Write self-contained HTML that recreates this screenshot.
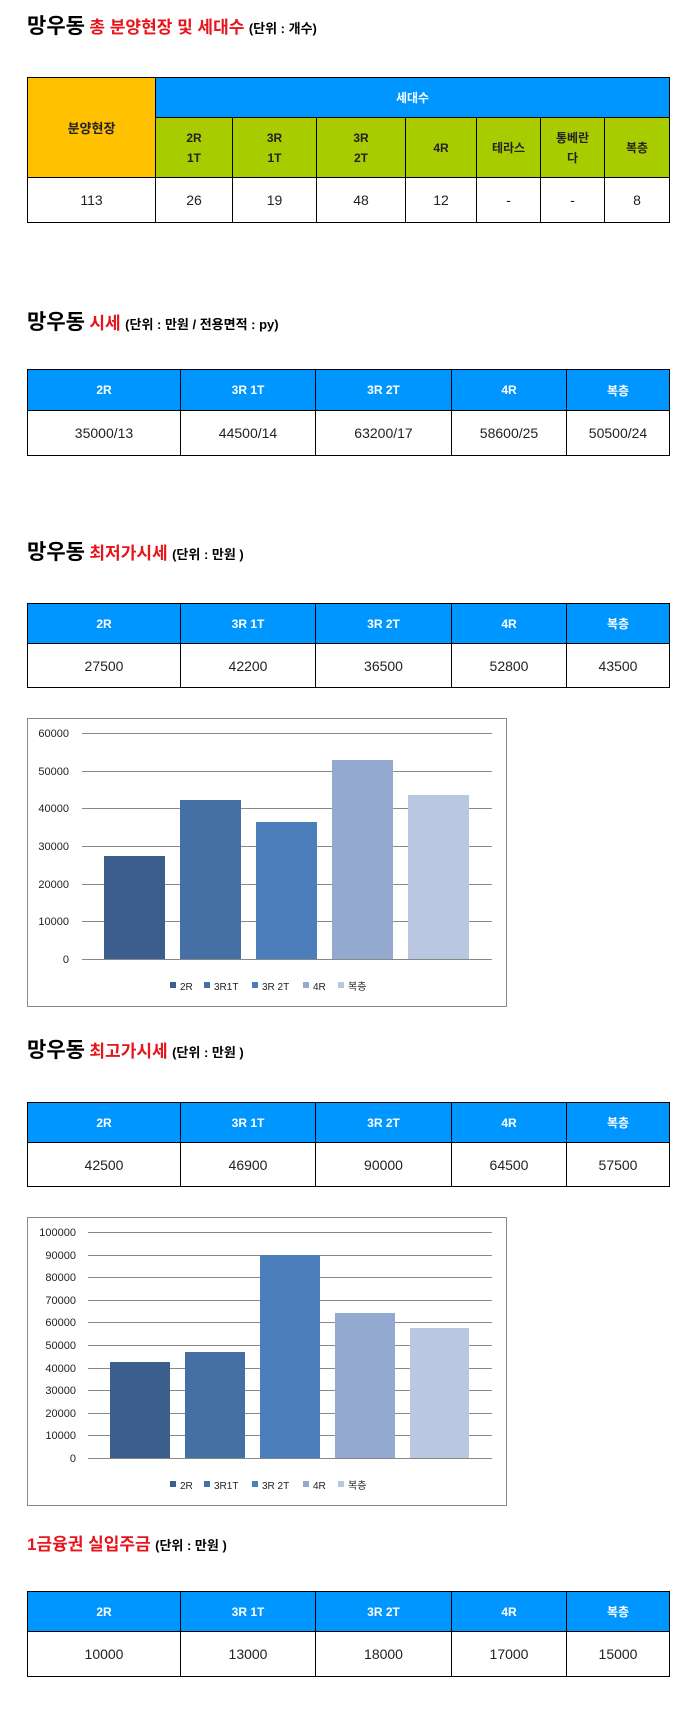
<!DOCTYPE html>
<html><head><meta charset="utf-8">
<style>
body{margin:0;width:695px;height:1723px;background:#fff;position:relative;font-family:"Liberation Sans","Noto Sans CJK KR",sans-serif;overflow:hidden}
.t{position:absolute;left:27px;white-space:nowrap;font-weight:bold;line-height:1}
.t .a{font-size:21px;color:#000}
.t .b{font-size:17px;color:#e8141c}
.t .c{font-size:13px;color:#000}
table{position:absolute;left:27px;width:642px;border-collapse:collapse;table-layout:fixed}
td{border:1.5px solid #000;text-align:center;padding:0;font-size:14px;color:#222}
td.h{background:#0096ff;color:#fff;font-weight:bold;font-size:12px}
td.o{background:#ffc000;color:#222;font-weight:bold;font-size:13px}
td.g{background:#a9cc00;color:#222;font-weight:bold;font-size:12px;line-height:20px}
.ch{position:absolute;left:27px;width:478px;border:1px solid #888;background:#fff}
</style></head><body>

<div class="t" style="top:16px"><span class="a">망우동</span> <span class="b">총 분양현장 및 세대수</span> <span class="c">(단위 : 개수)</span></div>
<table style="top:77px">
<colgroup><col style="width:128px"><col style="width:77px"><col style="width:84px"><col style="width:89px"><col style="width:71px"><col style="width:64px"><col style="width:64px"><col style="width:65px"></colgroup>
<tr style="height:40px"><td class="o" rowspan="2">분양현장</td><td class="h" colspan="7">세대수</td></tr>
<tr style="height:60px"><td class="g">2R<br>1T</td><td class="g">3R<br>1T</td><td class="g">3R<br>2T</td><td class="g">4R</td><td class="g">테라스</td><td class="g">통베란<br>다</td><td class="g">복층</td></tr>
<tr style="height:45px"><td>113</td><td>26</td><td>19</td><td>48</td><td>12</td><td>-</td><td>-</td><td>8</td></tr>
</table>

<div class="t" style="top:312px"><span class="a">망우동</span> <span class="b">시세</span> <span class="c">(단위 : 만원 / 전용면적 : py)</span></div>
<table style="top:369px">
<colgroup><col style="width:153px"><col style="width:135px"><col style="width:136px"><col style="width:115px"><col style="width:103px"></colgroup>
<tr style="height:41px"><td class="h">2R</td><td class="h">3R 1T</td><td class="h">3R 2T</td><td class="h">4R</td><td class="h">복층</td></tr>
<tr style="height:45px"><td>35000/13</td><td>44500/14</td><td>63200/17</td><td>58600/25</td><td>50500/24</td></tr>
</table>

<div class="t" style="top:542px"><span class="a">망우동</span> <span class="b">최저가시세</span> <span class="c">(단위 : 만원 )</span></div>
<table style="top:603px">
<colgroup><col style="width:153px"><col style="width:135px"><col style="width:136px"><col style="width:115px"><col style="width:103px"></colgroup>
<tr style="height:40px"><td class="h">2R</td><td class="h">3R 1T</td><td class="h">3R 2T</td><td class="h">4R</td><td class="h">복층</td></tr>
<tr style="height:44px"><td>27500</td><td>42200</td><td>36500</td><td>52800</td><td>43500</td></tr>
</table>

<svg style="position:absolute;left:0;top:0" width="695" height="1723" font-family="Liberation Sans, Noto Sans CJK KR, sans-serif" font-size="11" fill="#222">
<rect x="27.5" y="718.5" width="479" height="288" fill="#fff" stroke="#888"/>
<g stroke="#888" stroke-width="1">
<line x1="82" x2="492" y1="733.5" y2="733.5"/><line x1="82" x2="492" y1="771.5" y2="771.5"/><line x1="82" x2="492" y1="808.5" y2="808.5"/><line x1="82" x2="492" y1="846.5" y2="846.5"/><line x1="82" x2="492" y1="884.5" y2="884.5"/><line x1="82" x2="492" y1="921.5" y2="921.5"/><line x1="82" x2="492" y1="959.5" y2="959.5"/>
</g>
<g text-anchor="end">
<text x="69" y="737">60000</text><text x="69" y="775">50000</text><text x="69" y="812">40000</text><text x="69" y="850">30000</text><text x="69" y="888">20000</text><text x="69" y="925">10000</text><text x="69" y="963">0</text>
</g>
<rect x="104" y="856" width="61" height="103" fill="#3b5e8c"/>
<rect x="180" y="800" width="61" height="159" fill="#4470a5"/>
<rect x="256" y="822" width="61" height="137" fill="#4c7ebb"/>
<rect x="332" y="760" width="61" height="199" fill="#93a9cf"/>
<rect x="408" y="795" width="61" height="164" fill="#b9c7e0"/>
<g font-size="10">
<rect x="170" y="982" width="6" height="6" fill="#3b5e8c"/><text x="180" y="990">2R</text>
<rect x="204" y="982" width="6" height="6" fill="#4470a5"/><text x="214" y="990">3R1T</text>
<rect x="252" y="982" width="6" height="6" fill="#4c7ebb"/><text x="262" y="990">3R 2T</text>
<rect x="303" y="982" width="6" height="6" fill="#93a9cf"/><text x="313" y="990">4R</text>
<rect x="338" y="982" width="6" height="6" fill="#b9c7e0"/><text x="348" y="990">복층</text>
</g>

<rect x="27.5" y="1217.5" width="479" height="288" fill="#fff" stroke="#888"/>
<g stroke="#888" stroke-width="1">
<line x1="88" x2="492" y1="1232.5" y2="1232.5"/><line x1="88" x2="492" y1="1255.5" y2="1255.5"/><line x1="88" x2="492" y1="1277.5" y2="1277.5"/><line x1="88" x2="492" y1="1300.5" y2="1300.5"/><line x1="88" x2="492" y1="1322.5" y2="1322.5"/><line x1="88" x2="492" y1="1345.5" y2="1345.5"/><line x1="88" x2="492" y1="1368.5" y2="1368.5"/><line x1="88" x2="492" y1="1390.5" y2="1390.5"/><line x1="88" x2="492" y1="1413.5" y2="1413.5"/><line x1="88" x2="492" y1="1435.5" y2="1435.5"/><line x1="88" x2="492" y1="1458.5" y2="1458.5"/>
</g>
<g text-anchor="end">
<text x="76" y="1236">100000</text><text x="76" y="1259">90000</text><text x="76" y="1281">80000</text><text x="76" y="1304">70000</text><text x="76" y="1326">60000</text><text x="76" y="1349">50000</text><text x="76" y="1372">40000</text><text x="76" y="1394">30000</text><text x="76" y="1417">20000</text><text x="76" y="1439">10000</text><text x="76" y="1462">0</text>
</g>
<rect x="110" y="1362" width="60" height="96" fill="#3b5e8c"/>
<rect x="185" y="1352" width="60" height="106" fill="#4470a5"/>
<rect x="260" y="1255" width="60" height="203" fill="#4c7ebb"/>
<rect x="335" y="1313" width="60" height="145" fill="#93a9cf"/>
<rect x="410" y="1328" width="59" height="130" fill="#b9c7e0"/>
<g font-size="10">
<rect x="170" y="1481" width="6" height="6" fill="#3b5e8c"/><text x="180" y="1489">2R</text>
<rect x="204" y="1481" width="6" height="6" fill="#4470a5"/><text x="214" y="1489">3R1T</text>
<rect x="252" y="1481" width="6" height="6" fill="#4c7ebb"/><text x="262" y="1489">3R 2T</text>
<rect x="303" y="1481" width="6" height="6" fill="#93a9cf"/><text x="313" y="1489">4R</text>
<rect x="338" y="1481" width="6" height="6" fill="#b9c7e0"/><text x="348" y="1489">복층</text>
</g>
</svg>

<div class="t" style="top:1040px"><span class="a">망우동</span> <span class="b">최고가시세</span> <span class="c">(단위 : 만원 )</span></div>
<table style="top:1102px">
<colgroup><col style="width:153px"><col style="width:135px"><col style="width:136px"><col style="width:115px"><col style="width:103px"></colgroup>
<tr style="height:40px"><td class="h">2R</td><td class="h">3R 1T</td><td class="h">3R 2T</td><td class="h">4R</td><td class="h">복층</td></tr>
<tr style="height:44px"><td>42500</td><td>46900</td><td>90000</td><td>64500</td><td>57500</td></tr>
</table>

<div class="t" style="top:1536px"><span class="b">1금융권 실입주금</span> <span class="c">(단위 : 만원 )</span></div>
<table style="top:1591px">
<colgroup><col style="width:153px"><col style="width:135px"><col style="width:136px"><col style="width:115px"><col style="width:103px"></colgroup>
<tr style="height:40px"><td class="h">2R</td><td class="h">3R 1T</td><td class="h">3R 2T</td><td class="h">4R</td><td class="h">복층</td></tr>
<tr style="height:45px"><td>10000</td><td>13000</td><td>18000</td><td>17000</td><td>15000</td></tr>
</table>

</body></html>
